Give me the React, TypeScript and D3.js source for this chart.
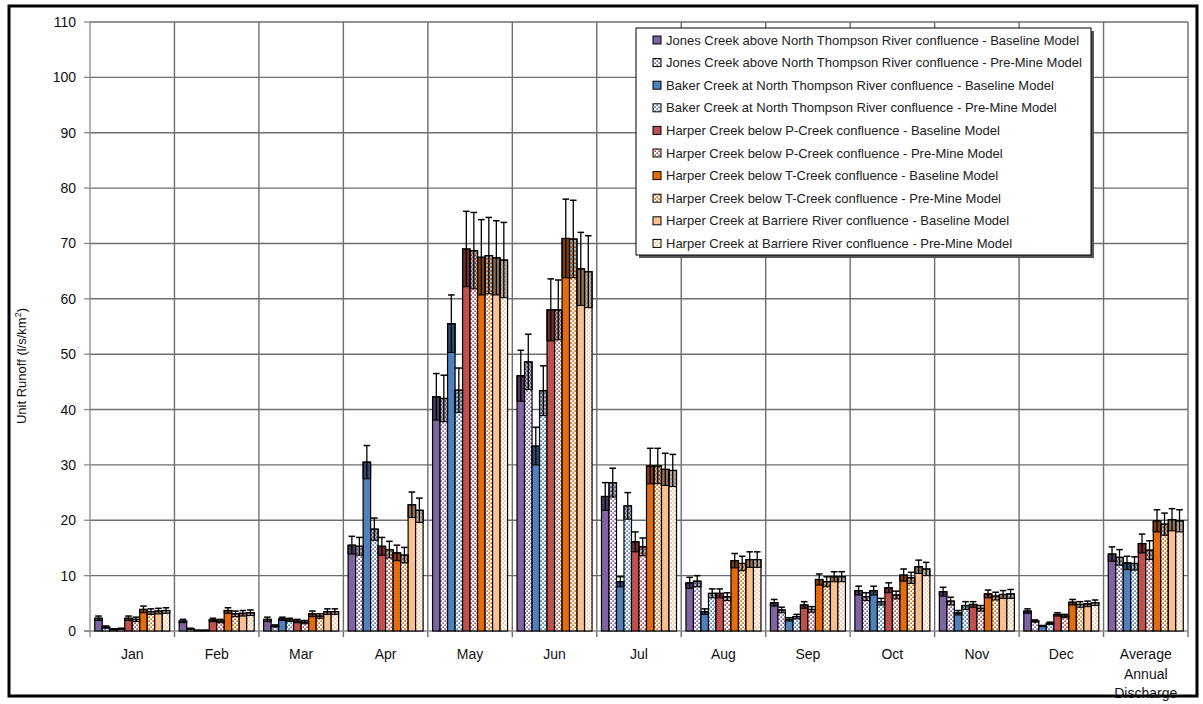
import React from 'react';
import * as d3 from 'd3';

const categories = ['Jan', 'Feb', 'Mar', 'Apr', 'May', 'Jun', 'Jul', 'Aug', 'Sep', 'Oct', 'Nov', 'Dec', 'Average Annual Discharge'];

const seriesNames = [
  'Jones Creek above North Thompson River confluence - Baseline Model',
  'Jones Creek above North Thompson River confluence - Pre-Mine Model',
  'Baker Creek at North Thompson River confluence - Baseline Model',
  'Baker Creek at North Thompson River confluence - Pre-Mine Model',
  'Harper Creek below P-Creek confluence - Baseline Model',
  'Harper Creek below P-Creek confluence - Pre-Mine Model',
  'Harper Creek below T-Creek confluence - Baseline Model',
  'Harper Creek below T-Creek confluence - Pre-Mine Model',
  'Harper Creek at Barriere River confluence - Baseline Model',
  'Harper Creek at Barriere River confluence - Pre-Mine Model',
];

const seriesColors = ['#8064a2', '#8064a2', '#4f81bd', '#4f81bd', '#c0504d', '#c0504d', '#e46c0a', '#e46c0a', '#fac090', '#fac090'];
const isPreMine = [false, true, false, true, false, true, false, true, false, true];

// unit runoff (l/s/km2), Jan..Dec, annual average
const jonesBase = [2.3, 1.8, 2.1, 15.5, 42.3, 46.1, 24.3, 8.7, 5.1, 7.3, 7.1, 3.6, 13.9];
const jonesPre = [0.7, 0.4, 0.9, 15.3, 42.0, 48.6, 26.8, 9.0, 3.8, 6.2, 5.4, 1.8, 13.3];
const bakerBase = [0.3, 0.1, 2.2, 30.5, 55.5, 33.4, 8.9, 3.5, 2.1, 7.3, 3.3, 0.9, 12.3];
const bakerPre = [0.4, 0.1, 2.0, 18.4, 43.5, 43.4, 22.6, 6.8, 2.6, 5.3, 4.6, 1.4, 12.2];
const harperPBase = [2.3, 2.0, 1.8, 15.3, 69.0, 58.0, 16.1, 6.8, 4.7, 7.8, 4.8, 3.0, 15.8];
const harperPPre = [2.1, 1.8, 1.6, 14.7, 68.7, 58.0, 15.2, 6.2, 3.9, 6.5, 4.1, 2.7, 14.6];
const harperTBase = [3.9, 3.7, 3.1, 14.1, 67.5, 70.9, 29.8, 12.7, 9.3, 10.1, 6.7, 5.2, 19.9];
const harperTPre = [3.5, 3.1, 2.7, 13.7, 67.8, 70.8, 29.8, 12.2, 8.9, 9.6, 6.3, 4.8, 19.3];
const harperBBase = [3.6, 3.2, 3.5, 22.8, 67.4, 65.4, 29.2, 12.9, 9.8, 11.6, 6.6, 4.9, 20.1];
const harperBPre = [3.7, 3.3, 3.5, 21.8, 67.0, 64.9, 29.0, 12.9, 9.8, 11.2, 6.7, 5.1, 19.9];

// error bar half-range
const jonesBaseErr = [0.4, 0.3, 0.4, 1.6, 4.2, 4.6, 2.5, 1.0, 0.6, 0.8, 0.8, 0.4, 1.3];
const jonesPreErr = [0.2, 0.1, 0.2, 1.6, 4.2, 5.0, 2.6, 1.0, 0.5, 0.7, 0.7, 0.2, 1.4];
const bakerBaseErr = [0.1, 0.05, 0.3, 3.0, 5.2, 3.4, 0.9, 0.5, 0.3, 0.8, 0.4, 0.1, 1.2];
const bakerPreErr = [0.1, 0.05, 0.3, 2.0, 4.0, 4.5, 2.4, 0.8, 0.4, 0.6, 0.7, 0.2, 1.2];
const harperPBaseErr = [0.4, 0.3, 0.3, 1.6, 6.8, 5.6, 1.8, 0.8, 0.6, 0.9, 0.5, 0.3, 1.7];
const harperPPreErr = [0.4, 0.3, 0.3, 1.5, 6.9, 5.4, 1.6, 0.7, 0.5, 0.7, 0.5, 0.3, 1.7];
const harperTBaseErr = [0.6, 0.5, 0.5, 1.4, 6.8, 7.1, 3.2, 1.3, 1.0, 1.1, 0.7, 0.5, 2.0];
const harperTPreErr = [0.5, 0.5, 0.4, 1.4, 6.9, 7.0, 3.2, 1.3, 0.9, 1.0, 0.7, 0.5, 2.0];
const harperBBaseErr = [0.5, 0.5, 0.5, 2.3, 6.7, 6.6, 2.9, 1.4, 0.9, 1.2, 0.7, 0.5, 2.0];
const harperBPreErr = [0.5, 0.5, 0.5, 2.2, 6.8, 6.5, 2.9, 1.4, 0.9, 1.2, 0.8, 0.5, 2.0];

const yTicks = [0, 10, 20, 30, 40, 50, 60, 70, 80, 90, 100, 110];

const seriesValues = [jonesBase, jonesPre, bakerBase, bakerPre, harperPBase, harperPPre, harperTBase, harperTPre, harperBBase, harperBPre];
const seriesErrors = [jonesBaseErr, jonesPreErr, bakerBaseErr, bakerPreErr, harperPBaseErr, harperPPreErr, harperTBaseErr, harperTPreErr, harperBBaseErr, harperBPreErr];

const W = 1203;
const H = 704;
const left = 90, right = 1188, top = 22, bottom = 631;
const font = '"Liberation Sans", Arial, sans-serif';
const gridColor = '#6e6e6e';

export default function App() {
  const y = d3.scaleLinear().domain([0, 110]).range([bottom, top]);
  const x0 = d3.scaleBand<string>().domain(categories).range([left, right]).paddingInner(0).paddingOuter(0);
  const x1 = d3.scaleBand<string>().domain(seriesNames).range([0, x0.bandwidth()]).paddingInner(0).paddingOuter(0.63);
  const bw = x1.bandwidth();

  const fillFor = (s: number) => (isPreMine[s] ? `url(#dots${s})` : seriesColors[s]);

  const bars: any[] = [];
  const overlays: any[] = [];
  categories.forEach((c, i) => {
    seriesNames.forEach((name, s) => {
      const v = seriesValues[s][i];
      const e = seriesErrors[s][i];
      const bx = (x0(c) as number) + (x1(name) as number);
      bars.push(
        <rect key={`b${i}-${s}`} x={bx} y={y(v)} width={bw} height={y(0) - y(v)}
          fill={fillFor(s)} stroke="#000" strokeWidth={1.2} />
      );
      const cx = bx + bw / 2;
      overlays.push(
        <g key={`e${i}-${s}`}>
          <rect x={bx} y={y(v)} width={bw} height={y(v - e) - y(v)} fill="#000" fillOpacity={isPreMine[s] ? 0.3 : 0.42} stroke="#000" strokeWidth={1.1} />
          <line x1={cx} x2={cx} y1={y(v - e)} y2={y(v + e)} stroke="#000" strokeWidth={1.3} />
          <line x1={cx - 3.3} x2={cx + 3.3} y1={y(v + e)} y2={y(v + e)} stroke="#000" strokeWidth={1.5} />
        </g>
      );
    });
  });

  const legendX = 636, legendY = 28, legendW = 455, legendH = 227;

  return (
    <svg width={W} height={H} style={{ position: 'absolute', left: 0, top: 0, background: '#fff' }} fontFamily={font}>
      <defs>
        {seriesColors.map((col, s) => (
          <pattern key={s} id={`dots${s}`} patternUnits="userSpaceOnUse" width={4} height={4}>
            <rect width={4} height={4} fill="#fff" />
            <rect x={0.3} y={0.3} width={1.7} height={1.7} fill={col} />
            <rect x={2.3} y={2.3} width={1.7} height={1.7} fill={col} />
          </pattern>
        ))}
      </defs>
      <rect x={0} y={0} width={W} height={H} fill="#fff" />
      <rect x={9} y={6} width={1188} height={690} fill="none" stroke="#000" strokeWidth={3} />

      {/* grid */}
      {yTicks.filter(t => t > 0).map(t => (
        <line key={`h${t}`} x1={left} x2={right} y1={y(t)} y2={y(t)} stroke={gridColor} strokeWidth={1.4} />
      ))}
      {categories.map((c, i) => (
        <line key={`v${i}`} x1={(x0(c) as number) + x0.bandwidth()} x2={(x0(c) as number) + x0.bandwidth()}
          y1={top} y2={bottom + 6} stroke={gridColor} strokeWidth={1.4} />
      ))}

      {/* axes */}
      <line x1={left} x2={left} y1={top} y2={bottom + 6} stroke="#8a8a8a" strokeWidth={1.3} />
      <line x1={left - 6} x2={right} y1={bottom} y2={bottom} stroke="#8a8a8a" strokeWidth={1.3} />
      {yTicks.map(t => (
        <g key={`t${t}`}>
          <line x1={left - 6} x2={left} y1={y(t)} y2={y(t)} stroke="#8a8a8a" strokeWidth={1.3} />
          <text x={left - 14} y={y(t) + 5} textAnchor="end" fontSize={14} fill="#111">{t}</text>
        </g>
      ))}
      {categories.map(c => {
        const words = c.split(' ');
        const cx = (x0(c) as number) + x0.bandwidth() / 2;
        return (
          <text key={c} x={cx} y={659} textAnchor="middle" fontSize={14} fill="#111">
            {words.map((w, k) => (
              <tspan key={k} x={cx} dy={k === 0 ? 0 : 19.5}>{w}</tspan>
            ))}
          </text>
        );
      })}
      <text transform="translate(26,366) rotate(-90)" textAnchor="middle" fontSize={13} fill="#111">
        Unit Runoff (l/s/km<tspan dy={-5} fontSize={9}>2</tspan><tspan dy={5}>)</tspan>
      </text>

      {bars}
      {overlays}

      {/* legend */}
      <rect x={legendX + 3} y={legendY + 3} width={legendW} height={legendH} fill="#555" />
      <rect x={legendX} y={legendY} width={legendW} height={legendH} fill="#fff" stroke="#000" strokeWidth={1} />
      {seriesNames.map((name, s) => {
        const ry = legendY + 12 + s * 22.6;
        return (
          <g key={name}>
            <rect x={653} y={ry - 4} width={8} height={8} fill={fillFor(s)} stroke="#000" strokeWidth={1} />
            <text x={666} y={ry + 4.5} fontSize={13} fill="#222">{name}</text>
          </g>
        );
      })}
    </svg>
  );
}
